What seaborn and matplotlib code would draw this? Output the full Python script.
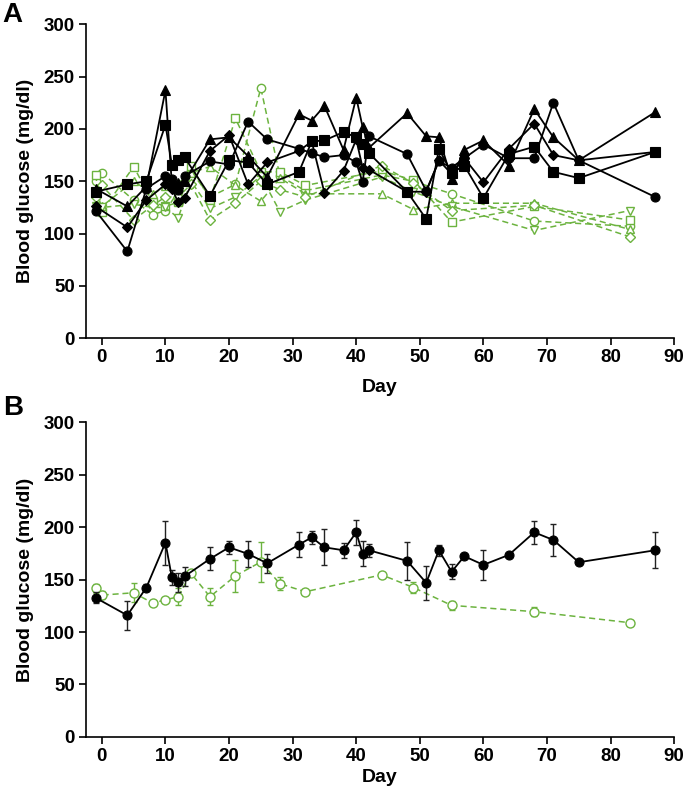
import numpy as np
import pandas as pd
import matplotlib
matplotlib.use("Agg")
import matplotlib.pyplot as plt
import seaborn as sns

# ---------------- data ----------------
days_black = [-1, 4, 7, 10, 11, 12, 13, 17, 20, 23, 26, 31, 33, 35, 38, 40, 41, 42,
              48, 51, 53, 55, 57, 60, 64, 68, 71, 75, 87]
black_circle = [122, 83, 143, 155, 152, 142, 155, 169, 166, 207, 190, 181, 177, 173, 175, 168, 149, 193,
                176, 141, 169, 163, 172, 185, 172, 172, 225, 170, 135]
black_square = [140, 147, 150, 204, 166, 170, 173, 136, 170, 168, 147, 159, 188, 189, 197, 192, 186, 177,
                140, 114, 181, 158, 165, 134, 176, 183, 159, 153, 178]
black_triangle = [143, 126, 145, 237, 148, 148, 150, 190, 192, 174, 154, 214, 208, 222, 180, 230, 202, 182,
                  215, 193, 192, 152, 180, 189, 165, 219, 192, 170, 216]
black_diamond = [126, 106, 132, 147, 143, 130, 134, 179, 194, 147, 168, 179, 188, 139, 160, 190, 163, 161,
                 140, 140, 170, 157, 172, 149, 181, 205, 175, 170, 178]

days_green = [-1, 0, 5, 8, 10, 12, 14, 17, 21, 25, 28, 32, 44, 49, 55, 68, 83]
green_circle = [150, 158, 132, 118, 122, 140, 160, 135, 147, 239, 155, 141, 156, 150, 138, 112, 107]
green_square = [156, 121, 164, 130, 126, 130, 165, 132, 210, 159, 159, 146, 160, 151, 111, 126, 113]
green_tri_up = [140, 126, 150, 138, 145, 148, 158, 164, 146, 131, 153, 138, 138, 123, 129, 129, 104]
green_tri_down = [126, 125, 128, 125, 125, 115, 150, 124, 135, 155, 121, 132, 154, 140, 126, 103, 122]
green_diamond = [135, 146, 113, 127, 135, 135, 147, 113, 129, 150, 142, 135, 165, 148, 122, 127, 97]

black_mean = [132.7, 115.9, 142.4, 185.2, 152.2, 147.5, 153.0, 169.7, 180.7, 174.4, 165.5, 183.3, 190.2,
              180.7, 177.9, 195.0, 174.7, 177.9, 167.8, 146.9, 177.9, 157.4, 172.2, 164.0, 173.5, 195.0,
              187.7, 166.5, 177.9]
black_sem = [5, 14, 3, 21, 7, 9, 9, 11, 6, 12, 9, 12, 6, 17, 7, 12, 12, 6, 18, 16, 5, 7, 2, 14, 2, 11, 15, 3, 17]
green_mean = [141.5, 135.2, 137.4, 127.6, 130.7, 133.6, 156.0, 133.6, 153.5, 166.8, 146.0, 138.4, 154.5,
              142.4, 125.4, 119.4, 108.9]
green_sem = [4, 4, 9, 2, 2, 8, 3, 8, 15, 19, 6, 2, 3, 5, 4, 4, 3]

y_ticks = [0, 50, 100, 150, 200, 250, 300]
x_ticks = [0, 10, 20, 30, 40, 50, 60, 70, 80, 90]

# ---------------- style ----------------
sns.set_style("ticks")
plt.rcParams['font.family'] = ['Liberation Sans', 'DejaVu Sans']
plt.rcParams['font.weight'] = 'bold'
plt.rcParams['text.color'] = 'black'
plt.rcParams['axes.labelcolor'] = 'black'
plt.rcParams['xtick.color'] = 'black'
plt.rcParams['ytick.color'] = 'black'
plt.rcParams['axes.edgecolor'] = 'black'

GREEN = "#6cb33f"
BLACK = "#000000"

fig = plt.figure(figsize=(6.85, 7.95), dpi=100)
axA = fig.add_axes([0.1255, 0.5745, 0.8587, 0.395])
axB = fig.add_axes([0.1255, 0.0730, 0.8587, 0.3960])

black_series = [(black_circle, 'o'), (black_square, 's'), (black_triangle, '^'), (black_diamond, 'D')]
green_series = [(green_circle, 'o'), (green_square, 's'), (green_tri_up, '^'),
                (green_tri_down, 'v'), (green_diamond, 'D')]

# Panel A
for vals, mk in green_series:
    sns.lineplot(x=days_green, y=vals, ax=axA, color=GREEN, linestyle=(0, (4, 2.5)), linewidth=1.1,
                 marker=mk, markersize=6 if mk != 'D' else 5, markerfacecolor='white',
                 markeredgecolor=GREEN, markeredgewidth=1.0, zorder=2, legend=False)
for vals, mk in black_series:
    sns.lineplot(x=days_black, y=vals, ax=axA, color=BLACK, linestyle='-', linewidth=1.3,
                 marker=mk, markersize=6.5 if mk != 'D' else 5.5, markerfacecolor=BLACK,
                 markeredgecolor=BLACK, markeredgewidth=0.8, zorder=3, legend=False)

# Panel B
axB.errorbar(days_green, green_mean, yerr=green_sem, fmt='none', ecolor=GREEN,
             elinewidth=1.0, capsize=2.5, capthick=1.0, zorder=2)
sns.lineplot(x=days_green, y=green_mean, ax=axB, color=GREEN, linestyle=(0, (4, 2.5)), linewidth=1.1,
             marker='o', markersize=6.5, markerfacecolor='white', markeredgecolor=GREEN,
             markeredgewidth=1.0, zorder=3, legend=False)
axB.errorbar(days_black, black_mean, yerr=black_sem, fmt='none', ecolor='#222222',
             elinewidth=1.0, capsize=2.5, capthick=1.0, zorder=4)
sns.lineplot(x=days_black, y=black_mean, ax=axB, color=BLACK, linestyle='-', linewidth=1.3,
             marker='o', markersize=6.5, markerfacecolor=BLACK, markeredgecolor=BLACK,
             markeredgewidth=0.8, zorder=5, legend=False)

for ax, lp in ((axA, 9), (axB, 3)):
    ax.set_xlim(-2.5, 90)
    ax.set_ylim(0, 300)
    ax.set_xticks(x_ticks)
    ax.set_yticks(y_ticks)
    ax.set_xticklabels([str(t) for t in x_ticks], fontsize=13.5, fontweight='bold', color='black')
    ax.set_yticklabels([str(t) for t in y_ticks], fontsize=13.5, fontweight='bold', color='black')
    ax.tick_params(axis='both', direction='out', length=5, width=1.2, pad=3, colors='black')
    for s in ['top', 'right']:
        ax.spines[s].set_visible(False)
    for s in ['left', 'bottom']:
        ax.spines[s].set_linewidth(1.2)
        ax.spines[s].set_color('black')
    ax.set_xlabel('Day', fontsize=14, fontweight='bold', labelpad=lp, color='black')
    ax.set_ylabel('Blood glucose (mg/dl)', fontsize=14, fontweight='bold', labelpad=7, color='black')

fig.text(0.004, 0.998, 'A', fontsize=20, fontweight='bold', ha='left', va='top', color='black')
fig.text(0.004, 0.503, 'B', fontsize=20, fontweight='bold', ha='left', va='top', color='black')

fig.savefig("out.png", dpi=100)
